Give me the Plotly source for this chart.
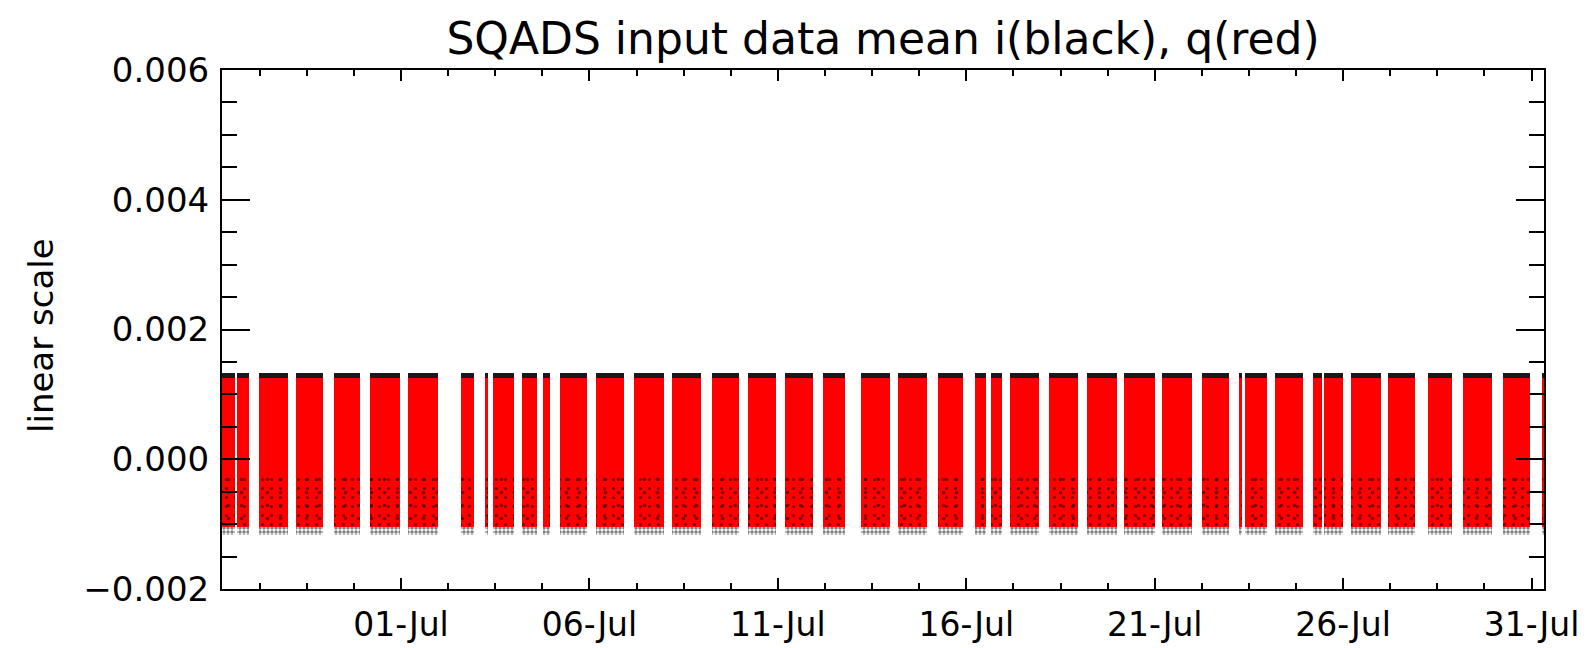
import pandas as pd
import plotly.graph_objects as go

# ---- data (days relative to 01-Jul 00:00) ----
pass_start_day = [-4.75, -4.34, -3.78, -2.79, -1.79, -0.81, 0.18, 1.60, 2.22, 2.44,
                  3.21, 3.78, 4.21, 5.18, 6.19, 7.19, 8.25, 9.22, 10.19, 11.21,
                  12.20, 13.18, 14.24, 15.23, 15.66, 16.16, 17.20, 18.20, 19.19, 20.19,
                  21.25, 22.23, 22.40, 23.19, 24.21, 24.50, 25.21, 26.20, 27.26, 28.19,
                  29.25, 30.27]
pass_end_day = [-4.41, -4.04, -3.00, -2.08, -1.08, -0.02, 0.97, 1.95, 2.32, 2.99,
                3.61, 3.96, 4.93, 5.92, 6.97, 7.96, 8.98, 9.95, 10.94, 11.79,
                12.98, 13.95, 14.92, 15.52, 15.94, 16.94, 17.97, 18.99, 20.01, 20.98,
                21.97, 22.32, 22.97, 23.94, 24.43, 25.00, 26.00, 26.91, 27.88, 28.94,
                29.96, 30.45]

# envelope of the scattered means (linear scale)
i_low, i_high = -0.00117, 0.00133      # black, i
q_low, q_high = -0.00105, 0.00125      # red, q
q_dense_top = -0.00020                 # lower part of q where black points show through

title_text = "SQADS input data mean i(black), q(red)"
y_title = "linear scale"
y_range = [-0.002, 0.006]
x_range_day = [-4.75, 30.33]

base = pd.Timestamp("2010-07-01")
starts = [base + pd.to_timedelta(d, unit="D") for d in pass_start_day]
ends = [base + pd.to_timedelta(d, unit="D") for d in pass_end_day]
widths_ms = [(e - s).total_seconds() * 1000.0 for s, e in zip(starts, ends)]
xs = [s.strftime("%Y-%m-%d %H:%M:%S") for s in starts]
n = len(xs)

fig = go.Figure()


def band(lo, hi, color, pattern=None):
    marker = dict(color=color, line=dict(width=0))
    if pattern is not None:
        marker["pattern"] = pattern
    fig.add_trace(go.Bar(
        x=xs, y=[hi - lo] * n, base=[lo] * n, width=widths_ms, offset=0,
        marker=marker, showlegend=False, hoverinfo="skip"))


# i (black): dense points along the top edge, scattered points along the bottom edge
band(q_high - 0.00002, i_high, "rgba(0,0,0,0.9)")
band(i_low, q_low + 0.00002, "black",
     dict(shape=".", fgcolor="black", bgcolor="rgba(0,0,0,0)", size=4, solidity=0.6))

# q (red) band
band(q_low, q_high, "#ff0000")

# black i points showing through in the lower part of q
for psize, psol in [(9, 0.10), (13, 0.06)]:
    band(q_low, q_dense_top, "black",
         dict(shape=".", fgcolor="black", bgcolor="rgba(0,0,0,0)", size=psize, solidity=psol))

x0 = base + pd.to_timedelta(x_range_day[0], unit="D")
x1 = base + pd.to_timedelta(x_range_day[1], unit="D")

font_family = "DejaVu Sans"
W, H = 1587, 640
fig.update_layout(
    width=W, height=H, autosize=False,
    barmode="overlay", bargap=0,
    paper_bgcolor="white", plot_bgcolor="white",
    margin=dict(l=214, r=51, t=62, b=59),
    font=dict(family=font_family, color="black", size=32),
    title=dict(text=title_text, x=(214 + 1536) / 2 / W, xanchor="center",
               y=1 - 31 / H, yanchor="middle", yref="container",
               font=dict(size=44, family=font_family, color="black")),
    showlegend=False,
)

fig.update_xaxes(
    type="date", range=[x0, x1], automargin=False,
    tickformat="%d-%b", tick0="2010-07-01", dtick=5 * 86400000,
    ticks="inside", ticklen=11, tickwidth=2, tickcolor="black",
    showline=True, linecolor="black", linewidth=2, mirror="ticks",
    showgrid=False, zeroline=False, ticklabelstandoff=5,
    tickfont=dict(size=33, family=font_family, color="black"),
    minor=dict(ticks="inside", ticklen=6, tickwidth=2, tickcolor="black",
               dtick=30 * 3600 * 1000, tick0="2010-07-01", showgrid=False),
)

fig.update_yaxes(
    range=y_range, tick0=-0.002, dtick=0.002, tickformat=".3f", automargin=False,
    ticks="inside", ticklen=28, tickwidth=2, tickcolor="black",
    showline=True, linecolor="black", linewidth=2, mirror="ticks",
    showgrid=False, zeroline=False, ticklabelstandoff=4,
    tickfont=dict(size=34, family=font_family, color="black"),
    minor=dict(ticks="inside", ticklen=15, tickwidth=2, tickcolor="black",
               dtick=0.0005, showgrid=False),
)

fig.add_annotation(
    text=y_title, textangle=-90, xref="paper", yref="paper",
    x=(41 - 222) / (1544 - 222), y=(589 - 336) / (589 - 70),
    xanchor="center", yanchor="middle", showarrow=False,
    font=dict(size=34, family=font_family, color="black"))

fig.write_html("out.html")
